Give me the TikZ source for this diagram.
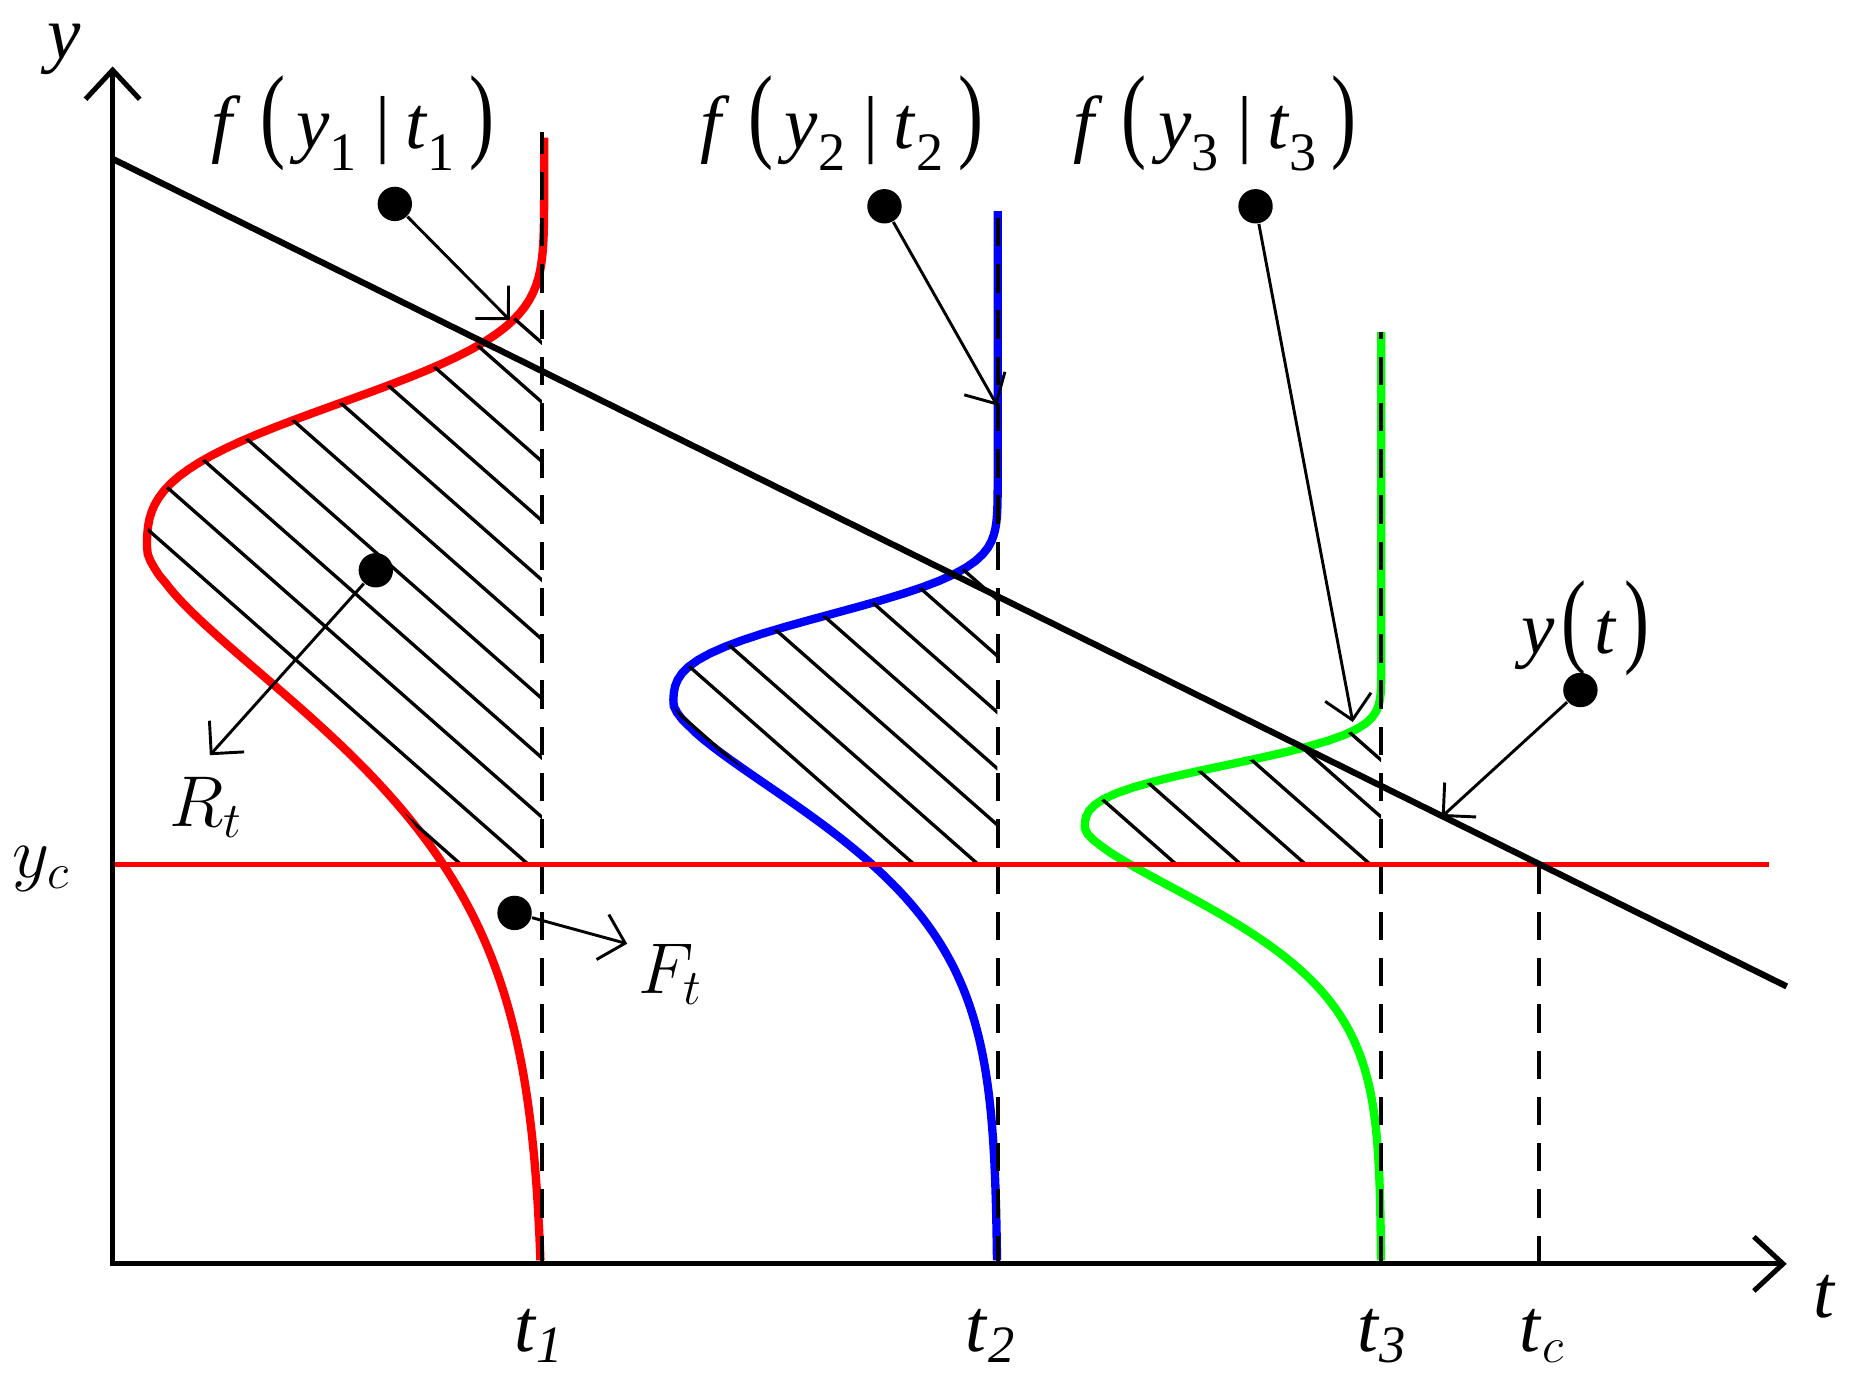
\documentclass[tikz,border=0pt]{standalone}
\usepackage{fontspec}
\setmainfont{Liberation Serif}
\usepackage{amsmath,tikz}
\usetikzlibrary{arrows.meta}

\newcommand{\fcond}[1]{%
  \textit{f}\hspace{.25em}\scalebox{1}[1.4]{(}\hspace{.15em}%
  \textit{y}\raisebox{-.3em}{\fontsize{13}{13}\selectfont #1}\hspace{.25em}|%
  \hspace{.2em}\textit{t}\raisebox{-.3em}{\fontsize{13}{13}\selectfont #1}%
  \hspace{.2em}\scalebox{1}[1.4]{)}}
\newcommand{\tsub}[1]{\textit{t}\textsubscript{\textit{#1}}}
% baseline, height, peak, upper and lower spread, y range
\newcommand{\bellcurve}[7]{plot[domain=#6:#7, samples=160, variable=\y]
  ({#1-#2*exp(-min(10,(abs(\y-#3)/ifthenelse(\y>#3,#4,#5)+0.0001)^ifthenelse(\y>#3,3,1.5)))}, \y)}

\begin{document}
\begin{tikzpicture}[
  lbl/.style={inner sep=0pt, font=\fontsize{18}{20}\selectfont},
  dot/.style={circle, fill=black, inner sep=0pt, minimum size=2.9mm},
  pin/.style={arrows={-Straight Barb[length=5.6pt,width=11.2pt]}, line width=.7pt},
  tline/.style={dash pattern=on 6.8pt off 4.3pt, line width=1pt},
  bell/.style={line width=2pt},
  hatch/.style={line width=.8pt}]
\useasboundingbox (0,0) rectangle (15.68,11.74);

\coordinate (o) at (0.95,1.08);
\coordinate (ytop) at (0.95,11.18);
\coordinate (tend) at (15.07,1.08);
\coordinate (t1) at (4.57,1.08);
\coordinate (t1top) at (4.57,10.63);
\coordinate (t2) at (8.415,1.08);
\coordinate (t2top) at (8.415,9.96);
\coordinate (t3) at (11.65,1.08);
\coordinate (t3top) at (11.65,8.94);
\coordinate (tc) at (12.98,1.08);
\coordinate (tctop) at (12.98,4.45);
\coordinate (yc0) at (0.95,4.45);
\coordinate (yc1) at (14.92,4.45);
\coordinate (yt0) at (0.95,10.40);
\coordinate (yt1) at (15.07,3.42);

\draw[bell, red] \bellcurve{4.59}{3.35}{7.1}{1.42}{2.15}{1.11}{10.58};
\draw[bell, blue] \bellcurve{8.415}{2.735}{5.8}{0.87}{1.4}{1.11}{9.96};
\draw[bell, green] \bellcurve{11.65}{2.5}{4.75}{0.62}{1.0}{1.11}{8.94};

% hatched parts above y_c
\begin{scope}
  \clip (yc0) rectangle (t1top);
  \clip \bellcurve{4.59}{3.35}{7.1}{1.42}{2.15}{1.11}{10.58} -- cycle;
  \foreach \c in {7.87,8.37,...,12.9}
    \draw[hatch] (0,\c) -- ++(15,-13.2);
\end{scope}
\begin{scope}
  \clip (yc0) rectangle (t2top);
  \clip \bellcurve{8.415}{2.735}{5.8}{0.87}{1.4}{1.11}{9.96} -- cycle;
  \foreach \c in {10.76,11.235,...,14.1}
    \draw[hatch] (0,\c) -- ++(15,-13.2);
\end{scope}
\begin{scope}
  \clip (yc0) rectangle (t3top);
  \clip \bellcurve{11.65}{2.5}{4.75}{0.62}{1.0}{1.11}{8.94} -- cycle;
  \foreach \c in {13.18,13.66,...,15.6}
    \draw[hatch] (0,\c) -- ++(15,-13.2);
\end{scope}

\draw[tline] (t1) -- (t1top);
\draw[tline] (t2) -- (t2top);
\draw[tline] (t3) -- (t3top);
\draw[tline] (tc) -- (tctop);

\draw[red, line width=1.2pt] (yc0) -- (yc1);
\draw[line width=1.5pt] (yt0) -- (yt1);
\draw[line width=1.2pt, arrows={Straight Barb[length=7pt,width=13pt]-Straight Barb[length=7pt,width=13pt]}]
  (ytop) -- (o) -- (tend);

\node[dot] at (3.33,10.02) (d1) {};
\node[dot] at (7.46,10.00) (d2) {};
\node[dot] at (10.59,10.00) (d3) {};
\node[dot] at (13.33,5.92) (dy) {};
\node[dot] at (3.17,6.93) (dr) {};
\node[dot] at (4.34,4.04) (df) {};
\coordinate (a1) at (4.30,9.04);
\coordinate (a2) at (8.41,8.32);
\coordinate (a3) at (11.41,5.65);
\coordinate (ay) at (12.16,4.85);
\coordinate (ar) at (1.77,5.37);
\coordinate (af) at (5.29,3.78);
\draw[pin] (d1) -- (a1);
\draw[pin] (d2) -- (a2);
\draw[pin] (d3) -- (a3);
\draw[pin] (dy) -- (ay);
\draw[pin] (dr) -- (ar);
\draw[pin] (df) -- (af);

\node[lbl] at (0.54,11.32) (ylab) {\textit{y}};
\node[lbl] at (15.39,0.80) (tlab) {\textit{t}};
\node[lbl] at (2.98,10.70) (f1) {\fcond{1}};
\node[lbl] at (7.10,10.70) (f2) {\fcond{2}};
\node[lbl] at (10.25,10.70) (f3) {\fcond{3}};
\node[lbl] at (13.37,6.44) (ytlab)
  {\textit{y}\hspace{.1em}\scalebox{1}[1.4]{(}\hspace{.1em}\textit{t}\hspace{.1em}\scalebox{1}[1.4]{)}};
\node[lbl] at (1.74,4.93) (rt) {$R_t$};
\node[lbl] at (5.66,3.52) (ft) {$F_t$};
\node[lbl] at (0.35,4.41) (ycl) {$y_c$};
\node[lbl] at (4.55,0.47) (t1l) {\tsub{1}};
\node[lbl] at (8.36,0.47) (t2l) {\tsub{2}};
\node[lbl] at (11.66,0.47) (t3l) {\tsub{3}};
\node[lbl] at (13.01,0.47) (tcl) {\textit{t}\textsubscript{$c$}};
%\node[lbl] at (13.37,5.40) {$y(t)$};
\end{tikzpicture}
\end{document}
